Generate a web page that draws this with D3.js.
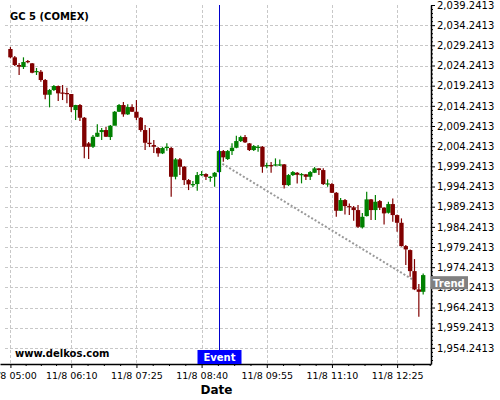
<!DOCTYPE html>
<meta charset="utf-8">
<script src="https://d3js.org/d3.v7.min.js"></script>
<style>
body { margin: 0; background-color: white; }
text { font-family: "DejaVu Sans", sans-serif; }
</style>
<div id="chart"></div>
<script>
// 5 minute candles, 11/8
var times = ["05:00","05:05","05:10","05:15","05:20","05:25","05:30","05:35","05:40","05:45","05:50","05:55",
  "06:00","06:05","06:10","06:15","06:20","06:25","06:30","06:35","06:40","06:45","06:50","06:55",
  "07:00","07:05","07:10","07:15","07:20","07:25","07:30","07:35","07:40","07:45","07:50","07:55",
  "08:00","08:05","08:10","08:15","08:20","08:25","08:30","08:35","08:40","08:45","08:50","08:55",
  "09:00","09:05","09:10","09:15","09:20","09:25","09:30","09:35","09:40","09:45","09:50","09:55",
  "10:00","10:05","10:10","10:15","10:20","10:25","10:30","10:35","10:40","10:45","10:50","10:55",
  "11:00","11:05","11:10","11:15","11:20","11:25","11:30","11:35","11:40","11:45","11:50","11:55",
  "12:00","12:05","12:10","12:15","12:20","12:25","12:30","12:35","12:40","12:45","12:50","12:55"];
var opens = [2028.33,2026.27,2024.36,2023.86,2025.35,2024.78,2022.75,2022.70,2020.64,2016.99,2018.16,2019.15,
  2017.54,2017.42,2017.17,2013.20,2014.44,2011.29,2004.94,2004.10,2006.58,2007.74,2008.24,2006.50,
  2009.31,2012.78,2014.44,2012.13,2013.94,2012.78,2011.29,2008.24,2005.09,2004.52,2003.78,2002.46,
  2003.78,2003.78,1996.66,2000.97,1999.14,1995.84,1994.72,1994.85,1997.08,1997.33,1996.58,1996.66,
  1997.82,2003.03,2001.05,2003.03,2003.85,2005.51,2006.50,2004.94,2003.28,2004.02,2004.10,1999.31,
  1999.56,1999.56,1999.56,1999.73,1994.60,1997.08,1997.65,1997.15,1997.25,1996.66,1997.65,1998.74,
  1998.32,1994.85,1994.85,1992.69,1988.23,1990.88,1989.39,1989.07,1988.40,1984.11,1986.91,1991.05,
  1988.40,1990.63,1988.97,1987.73,1989.89,1987.16,1985.25,1979.47,1978.48,1973.27,1968.73,1968.14];
var highs = [2028.82,2026.59,2024.86,2026.27,2025.60,2024.86,2023.62,2023.12,2020.90,2018.40,2019.40,2019.30,
  2019.40,2018.73,2017.17,2014.50,2014.69,2011.50,2005.26,2007.00,2009.65,2008.74,2008.98,2009.48,
  2012.95,2014.69,2015.18,2014.61,2014.61,2015.68,2011.45,2009.48,2008.74,2005.76,2004.02,2004.02,
  2004.94,2004.02,2001.30,2001.30,1999.31,1996.09,1995.60,1997.82,1998.07,1997.50,1996.83,1997.82,
  2003.28,2003.28,2003.28,2004.94,2006.83,2006.83,2007.00,2005.00,2004.52,2004.52,2004.27,2000.13,
  2000.30,2001.22,2000.97,1999.80,1997.33,1998.07,1997.82,1997.58,1997.33,1998.07,1999.06,1998.80,
  1998.80,1996.01,1995.10,1992.90,1991.38,1991.13,1990.06,1989.39,1989.64,1987.66,1992.94,1991.13,
  1992.12,1990.88,1989.14,1990.46,1991.30,1987.28,1986.34,1979.72,1978.60,1976.25,1970.05,1972.70];
var lows = [2026.02,2024.11,2021.88,2023.37,2024.78,2022.30,2021.88,2020.22,2015.85,2013.87,2017.91,2015.43,
  2015.68,2014.86,2012.70,2010.72,2010.47,2001.22,2001.05,2003.78,2006.50,2005.76,2006.50,2005.76,
  2009.48,2012.70,2011.54,2011.96,2012.70,2010.72,2007.82,2003.28,2004.02,2002.54,2001.62,2002.29,
  2003.11,1991.70,1996.01,1997.08,1994.60,1993.36,1994.10,1993.19,1996.83,1995.84,1995.42,1994.18,
  1997.70,2000.38,2000.80,2002.04,2003.70,2005.26,2005.02,2003.03,2003.03,2002.86,1997.65,1998.74,
  1997.65,1999.31,1999.31,1993.78,1994.35,1996.83,1995.02,1995.02,1995.84,1995.84,1997.58,1997.08,
  1994.60,1994.18,1992.62,1986.74,1988.15,1987.33,1987.16,1985.75,1983.94,1983.86,1986.80,1985.92,
  1985.92,1988.40,1984.85,1987.53,1985.50,1983.02,1979.35,1974.76,1971.86,1968.56,1961.94,1967.49];
var closes = [2026.27,2024.36,2023.94,2025.10,2025.10,2022.45,2022.87,2020.64,2016.99,2018.16,2019.15,2017.34,
  2017.42,2017.29,2013.94,2014.44,2011.29,2004.10,2004.10,2006.58,2007.57,2008.24,2006.58,2009.31,
  2012.78,2014.44,2012.13,2013.94,2012.78,2011.29,2008.24,2005.09,2004.77,2004.10,2002.46,2003.78,
  2004.10,1996.66,2000.97,1999.14,1995.84,1994.77,1994.85,1997.08,1997.33,1996.66,1996.66,1997.65,
  2003.03,2001.47,2003.03,2003.85,2005.51,2006.50,2005.19,2003.28,2004.27,2004.10,1999.14,1999.56,
  1999.39,1999.73,1999.73,1994.60,1997.08,1997.82,1997.15,1997.33,1996.66,1997.82,1998.74,1998.32,
  1994.85,1995.02,1992.69,1988.23,1990.88,1989.39,1989.14,1988.40,1984.26,1986.74,1991.05,1988.40,
  1990.46,1988.97,1987.58,1989.89,1987.16,1985.25,1979.47,1978.65,1973.27,1968.73,1968.14,1972.28];

var yTicks = [1954.2413,1959.2413,1964.2413,1969.2413,1974.2413,1979.2413,1984.2413,1989.2413,1994.2413,
  1999.2413,2004.2413,2009.2413,2014.2413,2019.2413,2024.2413,2029.2413,2034.2413,2039.2413];
var xTicks = ["05:00","06:10","07:25","08:40","09:55","11:10","12:25"];
var eventTime = "09:00";
var trendStart = {time: "09:00", price: 2000.39};
var trendEnd = {time: "12:45", price: 1970.90};
var trendLabelPrice = 1970.4;

var width = 500, height = 400;
var plotLeft = 0, plotRight = 431, plotTop = 5, plotBottom = 364;

var parse = function(t) { return d3.timeParse("%Y-%m-%d %H:%M")("2023-11-08 " + t); };

var x = d3.scaleTime()
  .domain([parse("04:48"), parse("13:04")])
  .range([plotLeft, plotRight]);
var y = d3.scaleLinear()
  .domain([1950.2413, 2039.2413])
  .range([plotBottom, plotTop]);

var data = times.map(function(t, i) {
  return {t: parse(t), o: opens[i], h: highs[i], l: lows[i], c: closes[i]};
});

var svg = d3.select("#chart").append("svg")
  .attr("width", width)
  .attr("height", height);

// grid
var grid = svg.append("g")
  .attr("stroke", "#c8c8c8")
  .attr("stroke-dasharray", "3,2")
  .attr("stroke-width", 1);
grid.selectAll("line.h")
  .data(yTicks.filter(function(v) { return y(v) > plotTop + 2; }))
  .enter().append("line")
    .attr("x1", 5).attr("x2", plotRight)
    .attr("y1", function(d) { return Math.round(y(d)) + 0.5; })
    .attr("y2", function(d) { return Math.round(y(d)) + 0.5; });
grid.selectAll("line.v")
  .data(xTicks)
  .enter().append("line")
    .attr("x1", function(d) { return Math.round(x(parse(d))) + 0.5; })
    .attr("x2", function(d) { return Math.round(x(parse(d))) + 0.5; })
    .attr("y1", plotTop).attr("y2", plotBottom);

// trend line
svg.append("line")
  .attr("x1", x(parse(trendStart.time))).attr("y1", y(trendStart.price))
  .attr("x2", x(parse(trendEnd.time))).attr("y2", y(trendEnd.price))
  .attr("stroke", "#999")
  .attr("stroke-width", 2)
  .attr("stroke-dasharray", "2,2");

// candles
var step = x(parse("05:05")) - x(parse("05:00"));
var bw = step * 1.0;
var color = function(d) { return d.c >= d.o ? "#008000" : "#800000"; };
var candles = svg.append("g").selectAll("g")
  .data(data)
  .enter().append("g");
candles.append("line")
  .attr("x1", function(d) { return x(d.t); })
  .attr("x2", function(d) { return x(d.t); })
  .attr("y1", function(d) { return y(d.h); })
  .attr("y2", function(d) { return y(d.l); })
  .attr("stroke", color)
  .attr("stroke-width", 1.2);
candles.append("rect")
  .attr("x", function(d) { return x(d.t) - bw / 2; })
  .attr("width", bw)
  .attr("y", function(d) { return y(Math.max(d.o, d.c)); })
  .attr("height", function(d) { return Math.max(1.2, Math.abs(y(d.o) - y(d.c))); })
  .attr("fill", color);

// event line
var ex = Math.round(x(parse(eventTime))) + 0.5;
svg.append("line")
  .attr("x1", ex).attr("x2", ex)
  .attr("y1", plotTop).attr("y2", 350)
  .attr("stroke", "#0000cc")
  .attr("stroke-width", 1);

// axes
var minorY = d3.range(1951.2413, 2039, 1).filter(function(v) {
  return Math.abs(((v - 1954.2413) % 5 + 5) % 5) > 0.01 && Math.abs(((v - 1954.2413) % 5 + 5) % 5 - 5) > 0.01;
});
svg.append("g")
  .attr("transform", "translate(" + plotRight + ",0)")
  .call(d3.axisRight(y).tickValues(minorY).tickSize(2).tickSizeOuter(0).tickFormat(""))
  .call(function(g) { g.select(".domain").remove(); });
var yAxis = svg.append("g")
  .attr("transform", "translate(" + plotRight + ",0)")
  .call(d3.axisRight(y).tickValues(yTicks).tickSize(4).tickPadding(2).tickSizeOuter(0).tickFormat(d3.format(",.4f")));
yAxis.select(".domain").attr("stroke-width", 1.5);
yAxis.selectAll("text").attr("font-family", "DejaVu Sans").attr("font-size", 10).attr("fill", "#000");

var minorX = [];
for (var i = 0; i < xTicks.length - 1; i++) {
  var a = parse(xTicks[i]).getTime(), b = parse(xTicks[i + 1]).getTime();
  for (var k = 1; k < 4; k++) minorX.push(new Date(a + (b - a) * k / 4));
}
var last = parse(xTicks[xTicks.length - 1]).getTime(), span = 75 * 60000;
minorX.push(new Date(last + span / 4), new Date(last + span * 2 / 4));
svg.append("g")
  .attr("transform", "translate(0," + plotBottom + ")")
  .call(d3.axisBottom(x).tickValues(minorX).tickSize(2).tickSizeOuter(0).tickFormat(""))
  .call(function(g) { g.select(".domain").remove(); });
var xAxis = svg.append("g")
  .attr("transform", "translate(0," + plotBottom + ")")
  .call(d3.axisBottom(x).tickValues(xTicks.map(parse)).tickSize(4).tickPadding(4).tickSizeOuter(0)
    .tickFormat(function(d) { return "11/8 " + d3.timeFormat("%H:%M")(d); }));
xAxis.select(".domain").attr("stroke-width", 1.5);
xAxis.selectAll("text").attr("font-family", "DejaVu Sans").attr("font-size", 9.5).attr("fill", "#000");

// labels
svg.append("text")
  .attr("x", 10).attr("y", 19.5)
  .attr("font-size", 10).attr("font-weight", "bold")
  .text("GC 5 (COMEX)");
svg.append("text")
  .attr("x", 15).attr("y", 357)
  .attr("font-size", 10).attr("font-weight", "bold")
  .text("www.delkos.com");
svg.append("text")
  .attr("x", (plotLeft + plotRight) / 2 + 1).attr("y", 394)
  .attr("text-anchor", "middle")
  .attr("font-size", 12).attr("font-weight", "bold")
  .text("Date");

// event label
svg.append("rect")
  .attr("x", ex - 22).attr("y", 350)
  .attr("width", 44).attr("height", 14)
  .attr("fill", "#0000ff");
svg.append("text")
  .attr("x", ex).attr("y", 361)
  .attr("text-anchor", "middle")
  .attr("font-size", 10).attr("font-weight", "bold")
  .attr("fill", "#fff")
  .text("Event");

// trend label
var ty = y(trendLabelPrice);
svg.append("rect")
  .attr("x", plotRight - 0.5).attr("y", ty - 6.5)
  .attr("width", 37.5).attr("height", 13)
  .attr("fill", "#808080");
svg.append("text")
  .attr("x", plotRight + 2).attr("y", ty + 4)
  .attr("font-size", 10).attr("font-weight", "bold")
  .attr("fill", "#fff")
  .text("Trend");
</script>
</html>
